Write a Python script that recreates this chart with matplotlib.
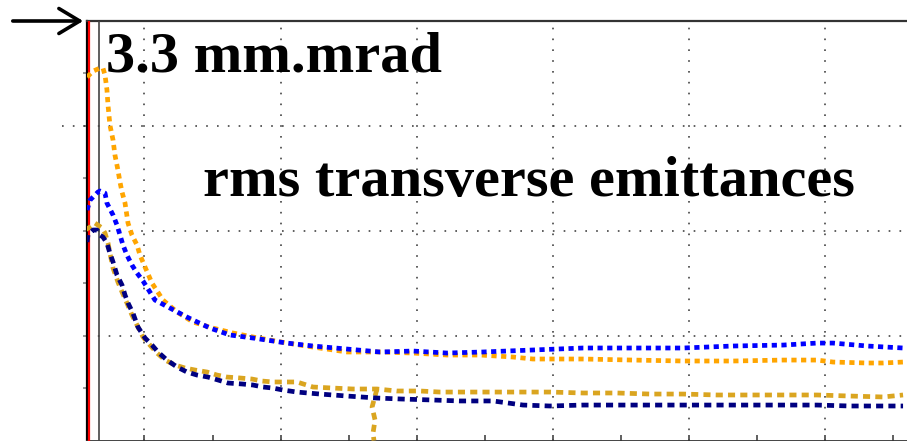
import matplotlib
matplotlib.use("Agg")
import matplotlib.pyplot as plt
from matplotlib.patches import FancyArrowPatch
from matplotlib.lines import Line2D

# Emittance evolution along the beamline (arbitrary length / emittance units)
x_orange = [0.578, 0.622, 0.673, 0.695, 0.710, 0.724, 0.732, 0.746, 0.769, 0.783,
            0.805, 0.820, 0.835, 0.857, 0.879, 0.908, 0.945, 0.967, 1.004, 1.055,
            1.136, 1.239, 1.356, 1.503, 1.650, 1.797, 2.047, 2.238, 2.488, 2.730,
            2.973, 3.222, 3.466, 3.707, 3.854, 4.222, 4.589, 4.956, 5.324, 5.691,
            5.941, 6.059, 6.309, 6.426, 6.573]
y_orange = [3.465, 3.522, 3.551, 3.551, 3.484, 3.346, 3.198, 3.008, 2.865, 2.722,
            2.579, 2.464, 2.369, 2.264, 2.073, 1.959, 1.864, 1.768, 1.654, 1.501,
            1.339, 1.225, 1.130, 1.072, 1.025, 0.987, 0.929, 0.891, 0.844, 0.844,
            0.834, 0.815, 0.815, 0.796, 0.777, 0.777, 0.767, 0.758, 0.758, 0.767,
            0.767, 0.748, 0.739, 0.739, 0.748]

x_blue = [0.578, 0.600, 0.622, 0.658, 0.673, 0.710, 0.724, 0.769, 0.798, 0.820,
          0.842, 0.871, 0.908, 0.945, 0.989, 1.077, 1.187, 1.312, 1.481, 1.628,
          1.797, 2.047, 2.238, 2.488, 2.730, 2.973, 3.222, 3.487, 3.854, 4.222,
          4.589, 4.956, 5.324, 5.691, 5.941, 6.059, 6.309, 6.573]
y_blue = [2.197, 2.293, 2.321, 2.369, 2.379, 2.359, 2.264, 2.150, 2.054, 1.959,
          1.864, 1.768, 1.673, 1.597, 1.521, 1.339, 1.263, 1.177, 1.072, 1.006,
          0.977, 0.929, 0.901, 0.872, 0.844, 0.853, 0.834, 0.844, 0.863, 0.882,
          0.882, 0.882, 0.901, 0.910, 0.929, 0.929, 0.901, 0.882]

x_gold = [0.563, 0.600, 0.636, 0.658, 0.688, 0.710, 0.732, 0.746, 0.769, 0.805,
          0.835, 0.871, 0.908, 0.945, 0.989, 1.040, 1.092, 1.151, 1.224, 1.298,
          1.371, 1.459, 1.533, 1.606, 1.702, 1.790, 1.863, 1.944, 2.018, 2.120,
          2.238, 2.385, 2.532, 2.708, 2.855, 3.024, 3.171, 3.340, 3.516, 3.737,
          3.979, 4.222, 4.472, 4.714, 4.956, 5.206, 5.449, 5.691, 5.941, 6.184,
          6.426, 6.573]
y_gold = [2.007, 2.035, 2.073, 2.054, 2.026, 1.978, 1.883, 1.787, 1.644, 1.511,
          1.416, 1.311, 1.196, 1.101, 0.987, 0.910, 0.834, 0.767, 0.720, 0.691,
          0.672, 0.653, 0.624, 0.605, 0.596, 0.586, 0.567, 0.558, 0.558, 0.558,
          0.510, 0.500, 0.491, 0.491, 0.472, 0.472, 0.462, 0.462, 0.462, 0.462,
          0.462, 0.453, 0.453, 0.443, 0.443, 0.434, 0.434, 0.434, 0.434, 0.424,
          0.415, 0.434]

# short goldenrod trace falling to the axis
x_gold_drop = [2.708, 2.672, 2.694, 2.679, 2.686]
y_gold_drop = [0.491, 0.319, 0.195, 0.071, 0.0]

x_navy = [0.578, 0.585, 0.622, 0.651, 0.673, 0.695, 0.724, 0.746, 0.769, 0.798,
          0.835, 0.857, 0.879, 0.915, 0.952, 1.004, 1.055, 1.099, 1.165, 1.239,
          1.312, 1.386, 1.466, 1.540, 1.614, 1.716, 1.797, 1.871, 1.944, 2.018,
          2.120, 2.289, 2.488, 2.708, 2.877, 3.120, 3.318, 3.561, 3.781, 3.979,
          4.222, 4.472, 4.714, 4.956, 5.206, 5.449, 5.691, 5.941, 6.184, 6.426,
          6.573]
y_navy = [1.892, 1.959, 2.007, 2.007, 1.959, 1.940, 1.883, 1.787, 1.702, 1.578,
          1.482, 1.387, 1.311, 1.215, 1.082, 0.977, 0.910, 0.844, 0.767, 0.701,
          0.653, 0.624, 0.605, 0.577, 0.548, 0.539, 0.529, 0.510, 0.500, 0.481,
          0.462, 0.443, 0.424, 0.405, 0.396, 0.386, 0.377, 0.377, 0.338, 0.329,
          0.338, 0.338, 0.338, 0.338, 0.338, 0.338, 0.338, 0.338, 0.329, 0.329,
          0.329]

x_red_marker = 0.589
x_gray_marker = 0.666

label_top = "3.3 mm.mrad"
label_title = "rms transverse emittances"

W, H = 907, 441
fig = plt.figure(figsize=(W / 100, H / 100), dpi=100)
fig.patch.set_facecolor("white")

left_px, top_px, bottom_px = 86.5, 21.0, 440.5
ax = fig.add_axes([left_px / W, (H - bottom_px) / H, 1 - left_px / W, (bottom_px - top_px) / H])
ax.set_xlim(0.574, 6.602)
ax.set_ylim(0, 4)

grid_kw = dict(color="#444444", lw=1.2, ls=(0, (1, 5.5)))
ax.set_xticks([1, 2, 3, 4, 5, 6])
ax.set_xticks([1.5, 2.5, 3.5, 4.5, 5.5, 6.5], minor=True)
ax.set_yticks([1, 2, 3])
ax.set_yticks([0.5, 1.5, 2.5, 3.5], minor=True)
ax.grid(True, which="major", **grid_kw)
ax.tick_params(axis="x", which="both", direction="in", length=4, width=1.2,
               color="#444444", labelbottom=False)
ax.tick_params(axis="y", which="both", direction="out", length=3, width=1.2,
               color="#888888", labelleft=False)

ax.spines["right"].set_visible(False)
ax.spines["top"].set_color("#333333")
ax.spines["top"].set_linewidth(1.6)
ax.spines["bottom"].set_color("#333333")
ax.spines["bottom"].set_linewidth(2.0)
ax.spines["left"].set_color("black")
ax.spines["left"].set_linewidth(1.6)

ax.axvline(x_red_marker, color="red", lw=1.6, zorder=3)
ax.axvline(x_gray_marker, color="#444444", lw=1.2, zorder=3)

dot = (0, (1.1, 0.95))
dash = (0, (1.5, 1.1))
lw = 3.4
ax.plot(x_gold, y_gold, color="#DAA520", lw=lw, ls=dash, zorder=4)
ax.plot(x_gold_drop, y_gold_drop, color="#DAA520", lw=lw, ls=dash, zorder=4)
ax.plot(x_navy, y_navy, color="#000080", lw=lw, ls=dash, zorder=5)
ax.plot(x_orange, y_orange, color="#FFA500", lw=lw, ls=dot, zorder=4)
ax.plot(x_blue, y_blue, color="#0000FF", lw=lw, ls=dot, zorder=5)

# gridline stub left of the frame
fig.add_artist(Line2D([62 / W, left_px / W], [(H - 126) / H] * 2,
                      transform=fig.transFigure, **grid_kw))

# arrow pointing at the top of the vertical scale
arrow = FancyArrowPatch((10 / W, (H - 21) / H), (86 / W, (H - 21) / H),
                        transform=fig.transFigure,
                        arrowstyle="->,head_length=1.0,head_width=0.6",
                        mutation_scale=15, lw=2.6, color="black")
fig.add_artist(arrow)

font = dict(family="Liberation Serif", weight="bold", size=42, color="black")
fig.text(106 / W, (H - 72) / H, label_top, va="baseline", ha="left", **font)
fig.text(203 / W, (H - 196) / H, label_title, va="baseline", ha="left", **font)

fig.savefig("out.png", dpi=100, facecolor="white")
